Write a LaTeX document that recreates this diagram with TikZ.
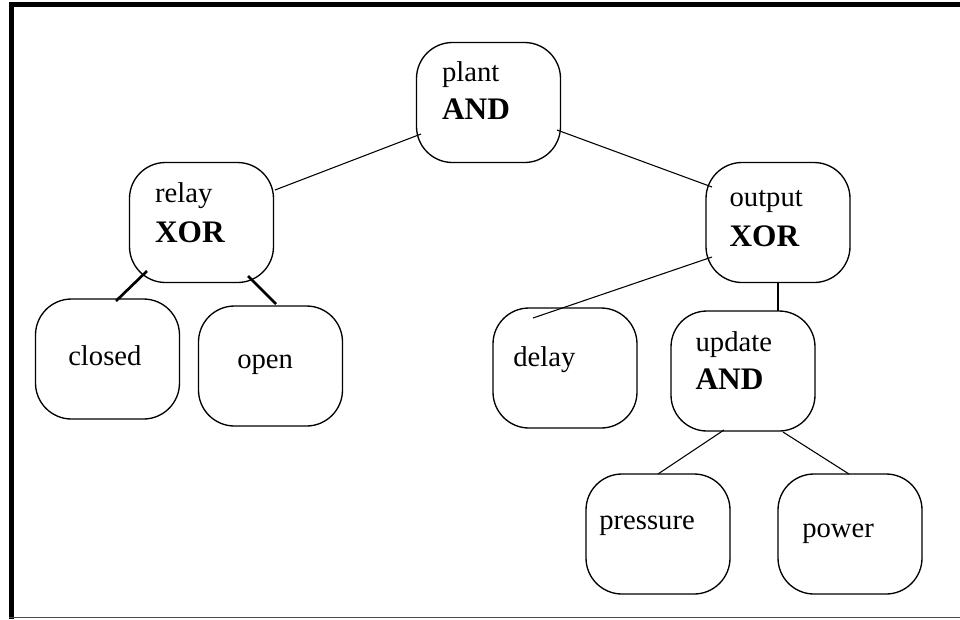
\documentclass[tikz,border=0pt]{standalone}
\usepackage{fontspec}
\setmainfont{Liberation Serif}
\begin{document}
% unit: one pixel of the 960x619 canvas, y running downwards
\begin{tikzpicture}[x=0.75pt,y=-0.75pt,
  statebox/.style={draw=black, line width=1pt, rounded corners=27pt,
    minimum width=108pt, minimum height=90pt, inner sep=0pt},
  lbl/.style={anchor=base west, inner sep=0pt, font=\fontsize{21.5}{25}\selectfont},
  kind/.style={anchor=base west, inner sep=0pt, font=\fontsize{23.5}{28}\selectfont\bfseries},
  link/.style={line width=0.8pt},
  heavylink/.style={line width=2pt}]
\useasboundingbox (0,0) rectangle (960,619);

% frame
\draw[line width=3.75pt] (9,4.5) -- (960,4.5);
\draw[line width=3.75pt] (11.5,2) -- (11.5,619);
\draw[line width=1pt, black!70] (9,617.5) -- (960,617.5);

% state boxes
\node[statebox] (plant)    at (488.5,102.5) {};
\node[statebox] (relay)    at (201.5,222.5) {};
\node[statebox] (output)   at (778,222.5) {};
\node[statebox] (closed)   at (107.5,359) {};
\node[statebox] (open)     at (270.5,366) {};
\node[statebox] (delay)    at (565,368) {};
\node[statebox] (update)   at (743,371) {};
\node[statebox] (pressure) at (658,534) {};
\node[statebox] (power)    at (850,534) {};

% two-line labels: name and decomposition kind
\node[lbl]  (plant-n)  at ([shift={(26,40)}]plant.north west) {plant};
\node[kind] (plant-k)  at ([shift={(26,78)}]plant.north west) {AND};
\node[lbl]  (relay-n)  at ([shift={(26,41)}]relay.north west) {relay};
\node[kind] (relay-k)  at ([shift={(26,81)}]relay.north west) {XOR};
\node[lbl]  (output-n) at ([shift={(24,45)}]output.north west) {output};
\node[kind] (output-k) at ([shift={(24,85)}]output.north west) {XOR};
\node[lbl]  (update-n) at ([shift={(25,41)}]update.north west) {update};
\node[kind] (update-k) at ([shift={(25,79)}]update.north west) {AND};

% leaf labels
\node[lbl] (closed-n)   at ([shift={(-39.5,6)}]closed.center) {closed};
\node[lbl] (open-n)     at ([shift={(-33.5,2)}]open.center) {open};
\node[lbl] (delay-n)    at ([shift={(-52,-2)}]delay.center) {delay};
\node[lbl] (pressure-n) at ([shift={(-59,-5)}]pressure.center) {pressure};
\node[lbl] (power-n)    at ([shift={(-48,3)}]power.center) {power};

% connectors
\draw[link] ([shift={(-67.5,31.5)}]plant.center) -- ([shift={(73.5,-32.5)}]relay.center);
\draw[link] ([shift={(68.5,27.5)}]plant.center) -- ([shift={(-66,-35.5)}]output.center);
\draw[heavylink] ([shift={(-54.5,48.5)}]relay.center) -- ([shift={(8.5,-58)}]closed.center);
\draw[heavylink] ([shift={(46.5,53.5)}]relay.center) -- ([shift={(5.5,-62)}]open.center);
\draw[link] ([shift={(-66,34.5)}]output.center) -- ([shift={(-32,-50)}]delay.center);
\draw[link] ([shift={(0,60.5)}]output.center) -- ([shift={(35,-60)}]update.center);
\draw[link] ([shift={(-19,59)}]update.center) -- ([shift={(0,-60)}]pressure.center);
\draw[link] ([shift={(40,61)}]update.center) -- ([shift={(-1,-60)}]power.center);
\end{tikzpicture}
\end{document}
